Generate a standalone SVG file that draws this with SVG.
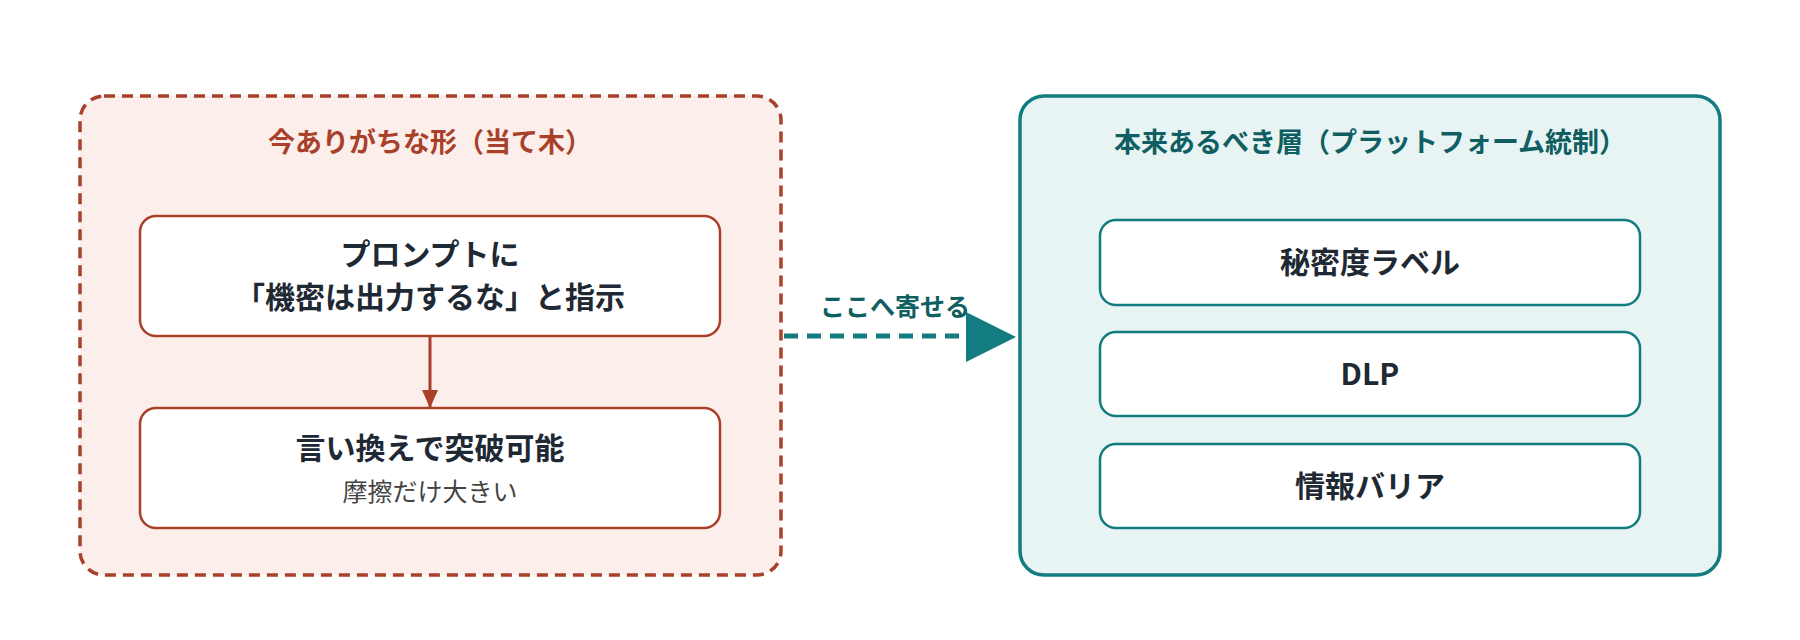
<svg xmlns="http://www.w3.org/2000/svg" width="1800" height="640" viewBox="0 0 1800 640">
<style>
text{font-family:"Noto Sans CJK JP","Noto Sans",sans-serif;text-anchor:middle}
.t{font-size:27px;font-weight:700}
.n{font-size:30px;font-weight:700;fill:#1f2933}
.s{font-size:25px;fill:#444}
.ln{fill:#fff;stroke:#a8402a;stroke-width:2.5}
.rn{fill:#fff;stroke:#127c80;stroke-width:2.5}
</style>
<defs>
<marker id="ah" markerWidth="18" markerHeight="16" refX="17" refY="8" orient="auto" markerUnits="userSpaceOnUse"><path d="M0,0L18,8L0,16z" fill="#a8402a"/></marker>
</defs>
<rect width="1800" height="640" fill="#fff"/>
<g id="current">
<rect x="80" y="96" width="701" height="479" rx="24" fill="#fcefeb" stroke="#a8402a" stroke-width="3.5" stroke-dasharray="11 7"/>
<text class="t" x="430" y="152" fill="#a8402a">今ありがちな形（当て木）</text>
</g>
<g id="prompt">
<rect class="ln" x="140" y="216" width="580" height="120" rx="16"/>
<text class="n" x="430" y="265">プロンプトに</text>
<text class="n" x="430" y="308">「機密は出力するな」と指示</text>
</g>
<g id="bypass">
<rect class="ln" x="140" y="408" width="580" height="120" rx="16"/>
<text class="n" x="430" y="459">言い換えで突破可能</text>
<text class="s" x="430" y="501">摩擦だけ大きい</text>
</g>
<g id="platform">
<rect x="1020" y="96" width="700" height="479" rx="24" fill="#e8f4f3" stroke="#127c80" stroke-width="3.5"/>
<text class="t" x="1370" y="152" fill="#0f5e61">本来あるべき層（プラットフォーム統制）</text>
</g>
<g id="label"><rect class="rn" x="1100" y="220" width="540" height="85" rx="16"/><text class="n" x="1370" y="273">秘密度ラベル</text></g>
<g id="dlp"><rect class="rn" x="1100" y="332" width="540" height="84" rx="16"/><text class="n" x="1370" y="385">DLP</text></g>
<g id="barrier"><rect class="rn" x="1100" y="444" width="540" height="84" rx="16"/><text class="n" x="1370" y="497">情報バリア</text></g>
<g id="connectors">
<line x1="430" y1="337" x2="430" y2="407" stroke="#a8402a" stroke-width="3" marker-end="url(#ah)"/>
<line x1="784" y1="336" x2="965" y2="336" stroke="#127c80" stroke-width="5" stroke-dasharray="14 9"/>
<path d="M966,312L1016,337L966,362z" fill="#127c80"/>
<text x="895" y="316" font-size="25" font-weight="700" fill="#0f5e61">ここへ寄せる</text>
</g>
</svg>
